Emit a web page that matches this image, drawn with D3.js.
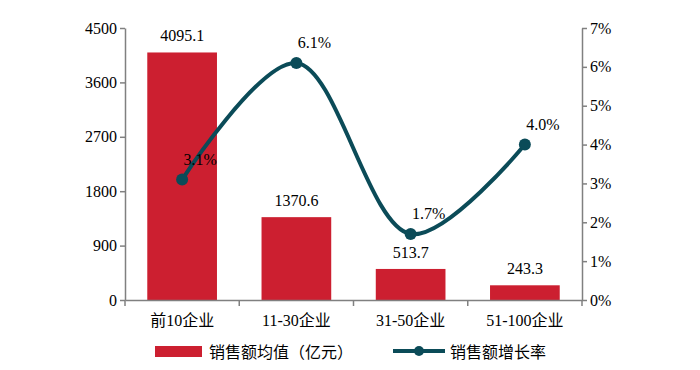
<!DOCTYPE html>
<meta charset="utf-8">
<script src="https://d3js.org/d3.v7.min.js"></script>
<style>
  body { margin: 0; background: #fff; }
  text { font-family: "Liberation Serif", "Noto Sans CJK SC", serif; fill: #000; }
</style>
<div id="chart"></div>
<script>
    // data
    var categories = ["前10企业", "11-30企业", "31-50企业", "51-100企业"];
    var salesAvg = [4095.1, 1370.6, 513.7, 243.3];
    var growthRate = [3.1, 6.1, 1.7, 4.0];
    var leftTicks = [0, 900, 1800, 2700, 3600, 4500];
    var rightTicks = [0, 1, 2, 3, 4, 5, 6, 7];

    var width = 700, height = 370;
    var margin = {top: 28, right: 118, bottom: 70, left: 125};
    var innerW = width - margin.left - margin.right,
        innerH = height - margin.top - margin.bottom;

    var barColor = "#CC1F30", lineColor = "#0B4B58", axisColor = "#808080";
    var serif = "'Liberation Serif', 'Noto Sans CJK SC', serif";

    var svg = d3.select("#chart").append("svg")
        .attr("width", width)
        .attr("height", height);

    var g = svg.append("g")
        .attr("transform", "translate(" + margin.left + "," + margin.top + ")");

    var x = d3.scaleBand().domain(categories).range([0, innerW]).paddingInner(0.39).paddingOuter(0.195);
    var xBand = d3.scaleBand().domain(categories).range([0, innerW]);
    var y = d3.scaleLinear().domain([0, 4500]).range([innerH, 0]);
    var y2 = d3.scaleLinear().domain([0, 7]).range([innerH, 0]);

    // bars
    g.selectAll(".bar")
        .data(salesAvg)
        .enter().append("rect")
        .attr("x", function(d, i) { return x(categories[i]); })
        .attr("y", function(d) { return y(d); })
        .attr("width", x.bandwidth())
        .attr("height", function(d) { return innerH - y(d); })
        .style("fill", barColor);

    g.selectAll(".barlabel")
        .data(salesAvg)
        .enter().append("text")
        .attr("x", function(d, i) { return x(categories[i]) + x.bandwidth() / 2; })
        .attr("y", function(d) { return y(d) - 11; })
        .attr("text-anchor", "middle")
        .style("font-size", "16px")
        .text(function(d) { return d.toFixed(1); });

    // left axis
    var axL = g.append("g")
        .call(d3.axisLeft(y).tickValues(leftTicks).tickSize(5).tickSizeOuter(0)
            .tickFormat(d3.format("d")));
    // right axis
    var axR = g.append("g")
        .attr("transform", "translate(" + innerW + ",0)")
        .call(d3.axisRight(y2).tickValues(rightTicks).tickSize(5).tickSizeOuter(0)
            .tickFormat(function(d) { return d + "%"; }));
    // bottom axis with ticks at band edges
    var axB = g.append("g")
        .attr("transform", "translate(0," + innerH + ")")
        .call(d3.axisBottom(xBand).tickSize(0).tickPadding(15));
    axB.selectAll(".edge")
        .data(d3.range(categories.length + 1))
        .enter().append("line")
        .attr("x1", function(i) { return i * xBand.step(); })
        .attr("x2", function(i) { return i * xBand.step(); })
        .attr("y1", 0).attr("y2", 6);

    [axL, axR, axB].forEach(function(a) {
        a.attr("font-size", null).attr("font-family", null);
        a.selectAll("path, line").attr("stroke", axisColor).attr("stroke-width", 1.5);
        a.selectAll("text").style("font-size", "16px").style("font-family", serif).attr("fill", "#000");
    });

    // growth line
    var line = d3.line()
        .x(function(d, i) { return x(categories[i]) + x.bandwidth() / 2; })
        .y(function(d) { return y2(d); })
        .curve(d3.curveCatmullRom.alpha(0.5));

    g.append("path")
        .datum(growthRate)
        .attr("d", line)
        .attr("fill", "none")
        .attr("stroke", lineColor)
        .attr("stroke-width", 4);

    g.selectAll(".dot")
        .data(growthRate)
        .enter().append("circle")
        .attr("cx", function(d, i) { return x(categories[i]) + x.bandwidth() / 2; })
        .attr("cy", function(d) { return y2(d); })
        .attr("r", 6)
        .style("fill", lineColor);

    g.selectAll(".linelabel")
        .data(growthRate)
        .enter().append("text")
        .attr("x", function(d, i) { return x(categories[i]) + x.bandwidth() / 2 + 18; })
        .attr("y", function(d) { return y2(d) - 15; })
        .attr("text-anchor", "middle")
        .style("font-size", "16px")
        .text(function(d) { return d.toFixed(1) + "%"; });

    // legend
    var lg = svg.append("g");
    lg.append("rect").attr("x", 155).attr("y", 346).attr("width", 47).attr("height", 11).style("fill", barColor);
    lg.append("text").attr("x", 209).attr("y", 351).attr("dominant-baseline", "central")
        .style("font-size", "16px").style("font-family", "'Noto Sans CJK SC', sans-serif").text("销售额均值（亿元）");
    lg.append("line").attr("x1", 393).attr("x2", 445).attr("y1", 351).attr("y2", 351)
        .attr("stroke", lineColor).attr("stroke-width", 4);
    lg.append("circle").attr("cx", 419).attr("cy", 351).attr("r", 5).style("fill", lineColor);
    lg.append("text").attr("x", 450).attr("y", 351).attr("dominant-baseline", "central")
        .style("font-size", "16px").style("font-family", "'Noto Sans CJK SC', sans-serif").text("销售额增长率");
</script>
